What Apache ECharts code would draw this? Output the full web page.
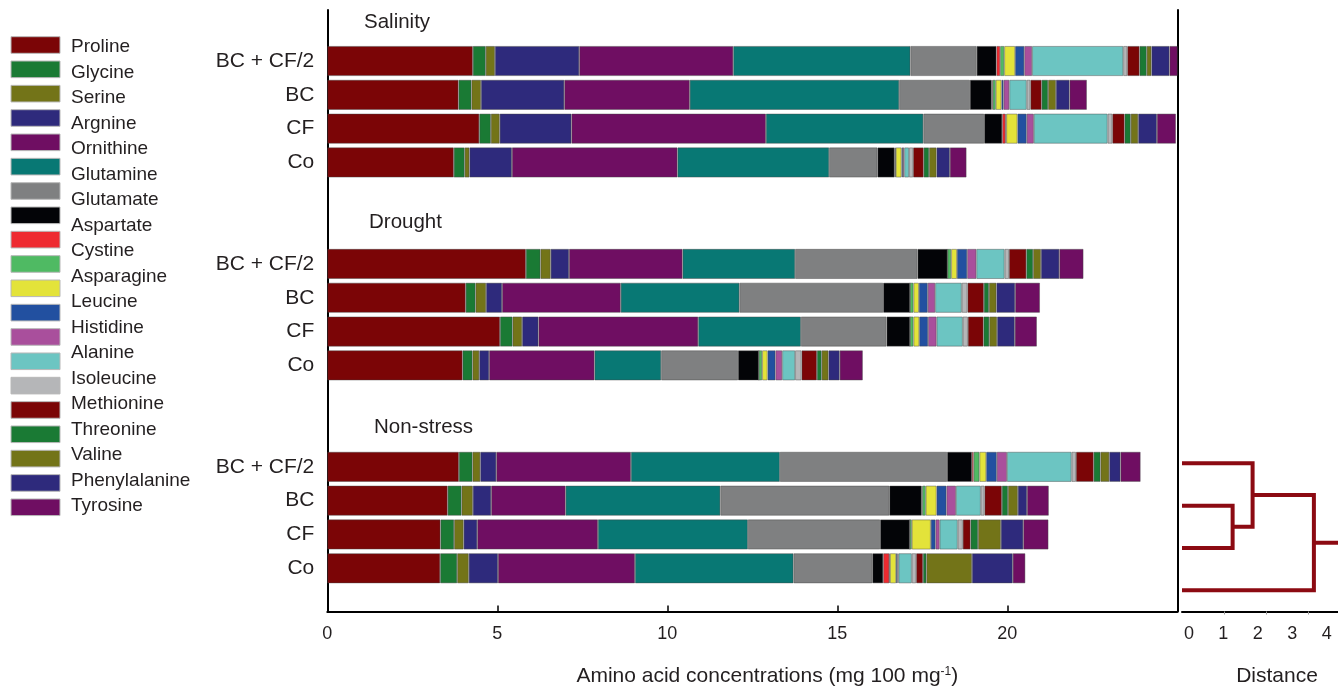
<!DOCTYPE html>
<html>
<head>
<meta charset="utf-8">
<script src="https://cdn.jsdelivr.net/npm/echarts@6/dist/echarts.min.js"></script>
<style>
  html, body { margin: 0; padding: 0; background: #ffffff; }
  #chart { width: 1338px; height: 687px; }
</style>
</head>
<body>
<div id="chart"></div>
<script>
// Stress groups and treatments (bars are listed top to bottom inside each group)
const groups = ['Salinity', 'Drought', 'Non-stress'];
const treatments = ['BC + CF/2', 'BC', 'CF', 'Co'];

// Amino acid concentrations (mg 100 mg-1), one value per bar:
// Salinity (BC + CF/2, BC, CF, Co), Drought (same order), Non-stress (same order)
const proline       = [4.28, 3.86, 4.47, 3.72,  5.84, 4.07, 5.08, 3.98,  3.87, 3.54, 3.33, 3.32];
const glycine       = [0.38, 0.38, 0.34, 0.32,  0.43, 0.29, 0.37, 0.29,  0.40, 0.41, 0.40, 0.50];
const serine        = [0.27, 0.28, 0.26, 0.14,  0.30, 0.31, 0.28, 0.20,  0.23, 0.33, 0.28, 0.34];
const argnine       = [2.48, 2.45, 2.11, 1.25,  0.54, 0.47, 0.48, 0.29,  0.47, 0.54, 0.40, 0.86];
const ornithine     = [4.53, 3.69, 5.72, 4.87,  3.34, 3.49, 4.70, 3.10,  3.96, 2.19, 3.55, 4.03];
const glutamine     = [5.21, 6.16, 4.63, 4.46,  3.31, 3.49, 3.02, 1.96,  4.38, 4.55, 4.41, 4.66];
const glutamate     = [1.95, 2.08, 1.79, 1.42,  3.60, 4.23, 2.52, 2.26,  4.92, 4.97, 3.89, 2.32];
const aspartate     = [0.58, 0.64, 0.53, 0.50,  0.88, 0.79, 0.69, 0.61,  0.73, 0.95, 0.87, 0.32];
const cystine       = [0.11, 0.03, 0.10, 0.02,  0.00, 0.00, 0.00, 0.00,  0.05, 0.02, 0.00, 0.18];
const asparagine    = [0.12, 0.09, 0.02, 0.02,  0.11, 0.10, 0.10, 0.10,  0.17, 0.10, 0.06, 0.02];
const leucine       = [0.32, 0.17, 0.33, 0.17,  0.17, 0.16, 0.17, 0.16,  0.20, 0.32, 0.56, 0.18];
const histidine     = [0.27, 0.06, 0.27, 0.04,  0.30, 0.26, 0.26, 0.23,  0.31, 0.29, 0.14, 0.04];
const unlabelled    = [0.23, 0.17, 0.21, 0.04,  0.27, 0.22, 0.25, 0.20,  0.30, 0.28, 0.12, 0.03];
const alanine       = [2.68, 0.51, 2.17, 0.14,  0.83, 0.78, 0.77, 0.38,  1.90, 0.73, 0.53, 0.39];
const isoleucine    = [0.12, 0.11, 0.14, 0.12,  0.13, 0.17, 0.15, 0.19,  0.13, 0.11, 0.15, 0.13];
const methionine    = [0.36, 0.33, 0.36, 0.31,  0.51, 0.48, 0.46, 0.45,  0.52, 0.51, 0.23, 0.20];
const threonine     = [0.21, 0.19, 0.18, 0.16,  0.20, 0.15, 0.17, 0.14,  0.20, 0.18, 0.22, 0.10];
const valine        = [0.14, 0.23, 0.22, 0.22,  0.23, 0.22, 0.23, 0.20,  0.26, 0.29, 0.67, 1.34];
const phenylalanine = [0.53, 0.40, 0.55, 0.39,  0.54, 0.55, 0.52, 0.33,  0.33, 0.27, 0.66, 1.20];
const tyrosine      = [0.24, 0.51, 0.56, 0.49,  0.71, 0.73, 0.65, 0.68,  0.59, 0.64, 0.74, 0.37];

// Stacking order of the segments (left to right) and their fill colours
const seriesNames = ['Proline', 'Glycine', 'Serine', 'Argnine', 'Ornithine', 'Glutamine', 'Glutamate',
  'Aspartate', 'Cystine', 'Asparagine', 'Leucine', 'Histidine', 'Unlabelled', 'Alanine', 'Isoleucine',
  'Methionine', 'Threonine', 'Valine', 'Phenylalanine', 'Tyrosine'];
const seriesValues = [proline, glycine, serine, argnine, ornithine, glutamine, glutamate,
  aspartate, cystine, asparagine, leucine, histidine, unlabelled, alanine, isoleucine,
  methionine, threonine, valine, phenylalanine, tyrosine];
const aminoColors = ['#7b0506', '#1a7a34', '#737418', '#2e2a7c', '#6f0e62', '#087874', '#7f8081',
  '#030407', '#ee2a30', '#4fba63', '#e3e33a', '#2250a0', '#a94f9c', '#6cc5c2', '#b5b6b8',
  '#7b0506', '#1a7a34', '#737418', '#2e2a7c', '#6f0e62'];

// Key text entries (one fewer than the colour swatches)
const legendLabels = ['Proline', 'Glycine', 'Serine', 'Argnine', 'Ornithine', 'Glutamine', 'Glutamate',
  'Aspartate', 'Cystine', 'Asparagine', 'Leucine', 'Histidine', 'Alanine', 'Isoleucine', 'Methionine',
  'Threonine', 'Valine', 'Phenylalanine', 'Tyrosine'];

// Concentration axis
const concTicks = [0, 5, 10, 15, 20];

// Cluster tree of the non-stress treatments (leaves top to bottom),
// merges as [clusterA, clusterB, distance]; ids >= leaf count are earlier merges
const treeLeaves = ['BC + CF/2', 'BC', 'CF', 'Co'];
const treeMerges = [[1, 2, 1.27], [0, 4, 1.85], [5, 3, 3.63]];
const distanceTicks = [0, 1, 2, 3, 4];
const distanceTickMarks = [1.02, 2.25, 3.46];

// ---------------------------------------------------------------------------
const TEXT = '#231f20';
const FONT = 'Liberation Sans, Arial, Helvetica, sans-serif';
const DIST_MIN = -0.2, DIST_MAX = 4.33;

// Category slots: four bars per group, two empty slots between groups
const slots = [];
const slotIndexOfBar = [];
groups.forEach((g, gi) => {
  treatments.forEach((t) => { slotIndexOfBar.push(slots.length); slots.push(g + '|' + t); });
  if (gi < groups.length - 1) { slots.push(g + '|gap1'); slots.push(g + '|gap2'); }
});

const barSeries = seriesNames.map((name, si) => {
  const data = slots.map(() => '-');
  seriesValues[si].forEach((v, bi) => { data[slotIndexOfBar[bi]] = v; });
  return {
    name: name,
    type: 'bar',
    stack: 'total',
    xAxisIndex: 0,
    yAxisIndex: 0,
    barWidth: 30,
    data: data,
    itemStyle: { color: aminoColors[si], borderColor: 'rgba(70,70,70,0.55)', borderWidth: 0.8 },
    emphasis: { disabled: true }
  };
});

// Dendrogram paths
const nodeY = treeLeaves.map((_, i) => i);
const nodeH = treeLeaves.map(() => DIST_MIN);
const treeSeries = [];
treeMerges.forEach(([a, b, h]) => {
  treeSeries.push({
    type: 'line', xAxisIndex: 2, yAxisIndex: 2, symbol: 'none', silent: true,
    lineStyle: { color: '#8c0a12', width: 4, cap: 'butt', join: 'miter' },
    data: [[nodeH[a], nodeY[a]], [h, nodeY[a]], [h, nodeY[b]], [nodeH[b], nodeY[b]]]
  });
  nodeY.push((nodeY[a] + nodeY[b]) / 2);
  nodeH.push(h);
});
const rootId = nodeY.length - 1;
treeSeries.push({
  type: 'line', xAxisIndex: 2, yAxisIndex: 2, symbol: 'none', silent: true,
  lineStyle: { color: '#8c0a12', width: 4, cap: 'butt' },
  data: [[nodeH[rootId], nodeY[rootId]], [DIST_MAX, nodeY[rootId]]]
});

// Key: colour swatches and their labels
const keyGraphics = [];
aminoColors.forEach((c, i) => {
  keyGraphics.push({
    type: 'rect', x: 11, y: 45 + i * 24.33 - 8.3,
    shape: { width: 49, height: 16.6 },
    style: { fill: c, stroke: '#b8b8b8', lineWidth: 1 }, silent: true
  });
});
legendLabels.forEach((t, i) => {
  keyGraphics.push({
    type: 'text', x: 71, y: 47 + i * 25.5,
    style: { text: t, fill: TEXT, font: '19px ' + FONT, align: 'left', verticalAlign: 'middle' }, silent: true
  });
});
// Group headings
const headingLeft = [364, 369, 374];
const headingMid = [22, 222, 427];
const headingGraphics = groups.map((g, i) => ({
  type: 'text', x: headingLeft[i], y: headingMid[i],
  style: { text: g, fill: TEXT, font: '20.5px ' + FONT, align: 'left', verticalAlign: 'middle' }, silent: true
}));

const option = {
  animation: false,
  backgroundColor: '#ffffff',
  textStyle: { fontFamily: FONT },
  grid: [
    { left: 327.3, top: 44.1, width: 850, height: 541.1, containLabel: false, outerBoundsMode: 'none' },
    { left: 327.3, top: 10, width: 850, height: 601.5, containLabel: false, outerBoundsMode: 'none' },
    { left: 1182, top: 442.2, width: 156, height: 169.3, containLabel: false, outerBoundsMode: 'none' }
  ],
  xAxis: [
    { gridIndex: 0, type: 'value', min: 0, max: 25, show: false },
    {
      gridIndex: 1, type: 'value', min: 0, max: 25, interval: 5,
      axisLine: { show: true, onZero: false, lineStyle: { color: '#000', width: 2 } },
      axisTick: {
        show: true, inside: true, length: 6, customValues: concTicks.slice(1),
        lineStyle: { color: '#000', width: 1.5 }
      },
      axisLabel: { show: true, margin: 14, fontSize: 18, color: TEXT, customValues: concTicks },
      splitLine: { show: false },
      name: 'Amino acid concentrations (mg 100 mg{sup|-1})',
      nameLocation: 'middle', nameGap: 54,
      nameTextStyle: {
        fontSize: 21, color: TEXT, padding: [0, 0, 0, 30],
        rich: { sup: { fontSize: 12, color: TEXT, verticalAlign: 'top', padding: [0, 0, 7, 0] } }
      }
    },
    {
      gridIndex: 2, type: 'value', min: DIST_MIN, max: DIST_MAX,
      axisLine: { show: true, onZero: false, lineStyle: { color: '#000', width: 2 } },
      axisTick: { show: true, inside: false, length: 3, customValues: distanceTickMarks, lineStyle: { color: '#999', width: 1 } },
      axisLabel: { show: true, margin: 14, fontSize: 18, color: TEXT, customValues: distanceTicks },
      splitLine: { show: false },
      name: 'Distance', nameLocation: 'middle', nameGap: 54,
      nameTextStyle: { fontSize: 21, color: TEXT, padding: [0, 0, 0, 34] }
    }
  ],
  yAxis: [
    {
      gridIndex: 0, type: 'category', inverse: true, data: slots,
      axisLine: { show: false }, axisTick: { show: false }, splitLine: { show: false },
      axisLabel: {
        show: true, margin: 13, fontSize: 21, color: TEXT, interval: 0,
        formatter: (v) => { const t = v.split('|')[1]; return t.indexOf('gap') === 0 ? '' : t; }
      }
    },
    {
      gridIndex: 1, type: 'value', min: 0, max: 1, position: 'left',
      axisLine: { show: true, onZero: false, lineStyle: { color: '#000', width: 2 } },
      axisTick: { show: false }, axisLabel: { show: false }, splitLine: { show: false }
    },
    {
      gridIndex: 2, type: 'value', inverse: true, min: -0.5, max: 3.5, show: false
    },
    {
      gridIndex: 1, type: 'value', min: 0, max: 1, position: 'right',
      axisLine: { show: true, onZero: false, lineStyle: { color: '#000', width: 2 } },
      axisTick: { show: false }, axisLabel: { show: false }, splitLine: { show: false }
    }
  ],
  graphic: keyGraphics.concat(headingGraphics),
  series: barSeries.concat(treeSeries)
};

const chart = echarts.init(document.getElementById('chart'), null, { renderer: 'canvas' });
chart.setOption(option);
</script>
</body>
</html>
